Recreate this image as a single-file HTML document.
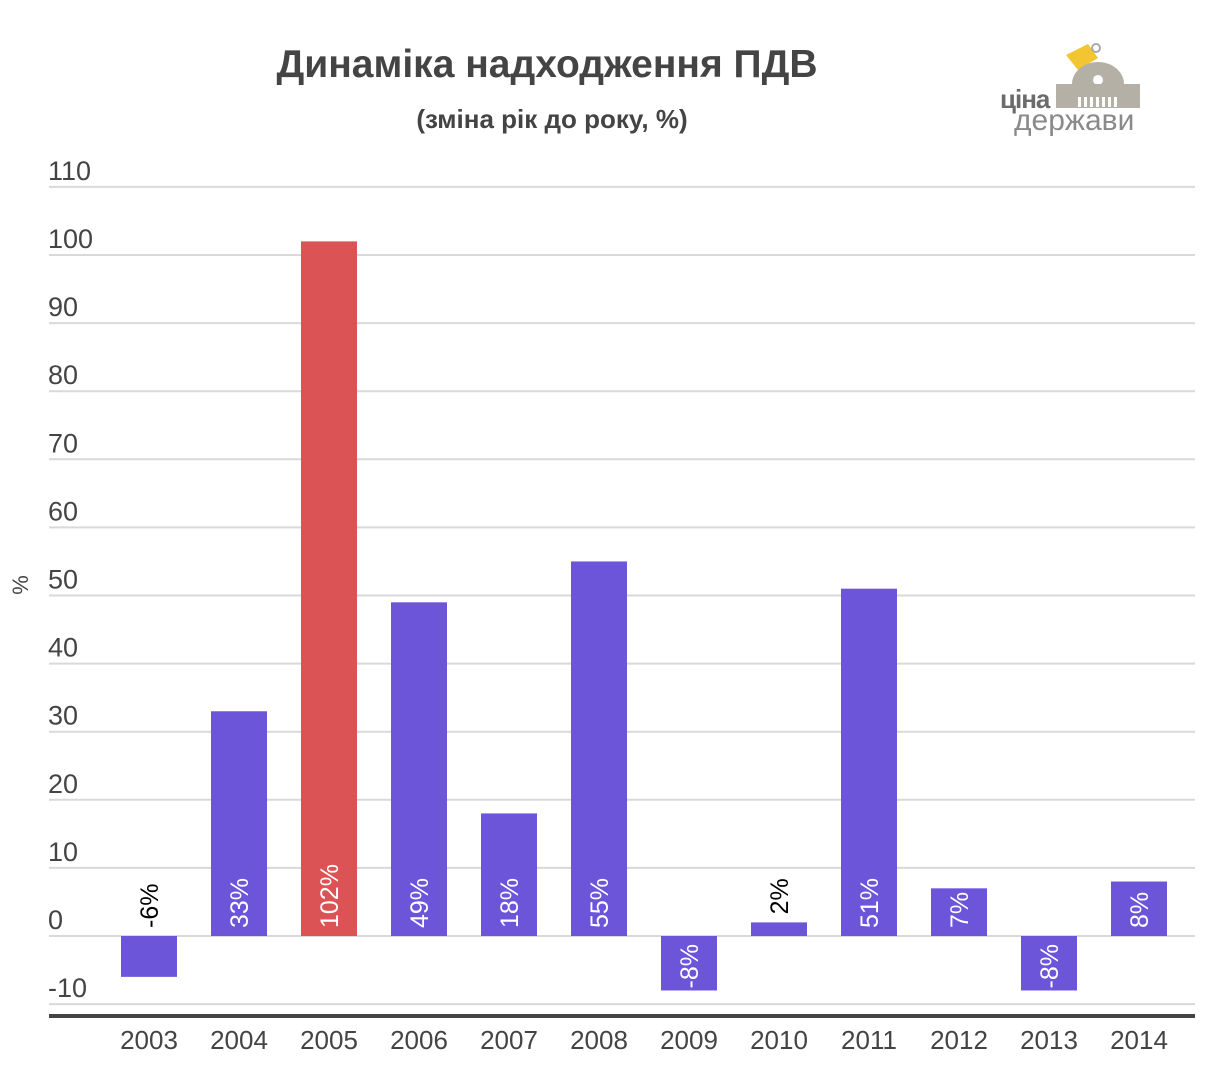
<!DOCTYPE html>
<html><head><meta charset="utf-8"><style>
body{margin:0;background:#fff;}
svg{display:block;font-family:"Liberation Sans","DejaVu Sans",sans-serif;}
</style></head><body>
<svg id="chart" width="1206" height="1072">
<text x="547" y="77" text-anchor="middle" font-size="39" font-weight="bold" fill="#444">Динаміка надходження ПДВ</text>
<text x="552" y="128" text-anchor="middle" font-size="26" font-weight="bold" fill="#444">(зміна рік до року, %)</text>
<text x="28" y="585" font-size="22" fill="#444" transform="rotate(-90 28 585)" text-anchor="middle">%</text>
<g>
<polygon points="1066,55 1088,44 1098,58 1078,70" fill="#f3c531"/>
<circle cx="1096" cy="48" r="4" fill="none" stroke="#aaa" stroke-width="2"/>
<path d="M1072,84 A26,22 0 0 1 1124,84 Z" fill="#b5b0a5"/>
<circle cx="1098" cy="80" r="5" fill="#fff"/>
<rect x="1056" y="84" width="84" height="24" fill="#b5b0a5"/>
<g fill="#fff"><rect x="1078" y="97" width="3" height="10"/><rect x="1084" y="97" width="3" height="10"/><rect x="1090" y="97" width="3" height="10"/><rect x="1096" y="97" width="3" height="10"/><rect x="1102" y="97" width="3" height="10"/><rect x="1108" y="97" width="3" height="10"/><rect x="1114" y="97" width="3" height="10"/></g>
<text x="1000" y="108" font-size="26" font-weight="bold" fill="#6b6b6b" letter-spacing="-1">ціна</text>
<text x="1014" y="130" font-size="30" fill="#8a8a8a">держави</text>
</g>
<g id="grid"></g><g id="bars"></g>
</svg>
<script>
const years=["2003","2004","2005","2006","2007","2008","2009","2010","2011","2012","2013","2014"];
const values=[-6,33,102,49,18,55,-8,2,51,7,-8,8];
const ticks=[-10,0,10,20,30,40,50,60,70,80,90,100,110];
const NS="http://www.w3.org/2000/svg";
function y(v){return 936-v*6.81;}
function x(i){return 149+i*90;}
const grid=document.getElementById('grid'),bars=document.getElementById('bars');
function mk(tag,attrs,parent,txt){const e=document.createElementNS(NS,tag);for(const k in attrs)e.setAttribute(k,attrs[k]);if(txt!==undefined)e.textContent=txt;parent.appendChild(e);return e;}
ticks.forEach(t=>{
 const l=mk('line',{x1:49,x2:1195,y1:y(t),y2:y(t),stroke:'#d9d9d9','stroke-width':2},grid);
 
 
 const tx=mk('text',{x:48,y:y(t)-7,'font-size':27,fill:'#444'},grid,String(t));
 
 
});
const base=mk('rect',{x:49,y:1014,width:1146,height:4,fill:'#444'},grid);


years.forEach((yr,i)=>{
 const v=values[i],top=Math.min(y(v),y(0)),h=Math.abs(y(v)-y(0));
 const color=yr==="2005"?'#dc5355':'#6d55d9';
 const r=mk('rect',{x:x(i)-28,y:top,width:56,height:h,fill:color},bars);
 
 
 const lab=v+'%';
 let inside=h>45,lx=x(i)+9,ly,anchor,fill;
 if(v>=0){ if(inside){ly=y(0)-8;anchor='start';fill='#fff';} else {ly=top-8;anchor='start';fill='#000';} }
 else { if(inside){ly=y(0)+8;anchor='end';fill='#fff';} else {ly=y(0)-8;anchor='start';fill='#000';} }
 const t=mk('text',{x:lx,y:ly,'font-size':25,fill:fill,'text-anchor':anchor,transform:`rotate(-90 ${lx} ${ly})`},bars,lab);
 
 
 const xl=mk('text',{x:x(i),y:1049,'font-size':26,fill:'#444','text-anchor':'middle'},bars,yr);
 
 
});
</script>
</body></html>
